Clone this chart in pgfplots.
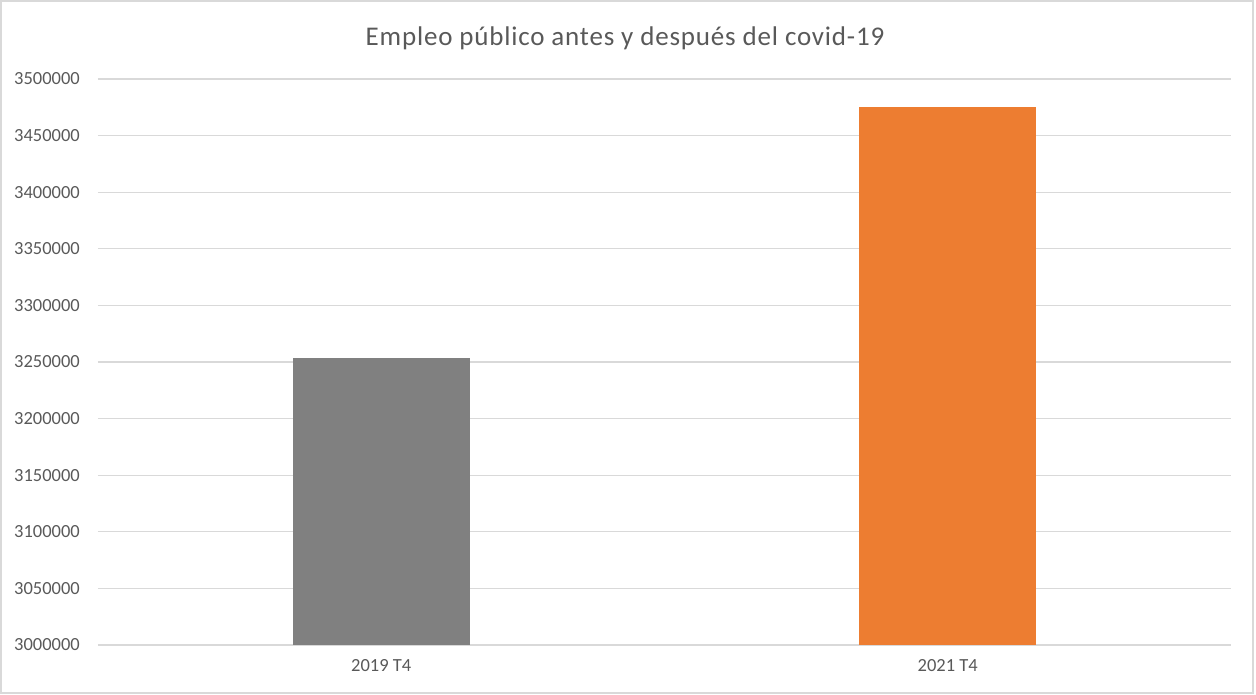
\documentclass[border=0pt]{standalone}
\usepackage{pgfplots}
\pgfplotsset{compat=1.18}
\usepackage{fontspec}
\setmainfont{Carlito}
\newfontfamily\titlefont[LetterSpace=3.0]{Carlito}
\definecolor{txtgray}{RGB}{89,89,89}
\definecolor{gridgray}{RGB}{217,217,217}
\definecolor{bargray}{RGB}{128,128,128}
\definecolor{barorange}{RGB}{237,125,49}
\begin{document}
\begin{tikzpicture}[x=1pt,y=1pt]
\useasboundingbox (0,0) rectangle (1256,695);
\draw[gridgray, line width=1.5pt] (1,2) rectangle (1253,694);
\node[anchor=base, text=txtgray, font=\titlefont\fontsize{27}{31}\selectfont] at (625,649) {Empleo público antes y después del covid-19};
\begin{axis}[
  at={(98pt,50pt)}, anchor=south west,
  scale only axis, width=1133pt, height=566pt,
  xmin=-0.5, xmax=1.5, ymin=3000000, ymax=3500000,
  ytick distance=50000,
  scaled y ticks=false,
  /pgf/number format/.cd, fixed, 1000 sep={}, assume math mode=true,
  /pgfplots/.cd,
  xtick={0,1}, xticklabels={2019 T4, 2021 T4},
  ymajorgrids, grid style={gridgray, line width=1.3pt},
  axis line style={draw=none}, tick style={draw=none},
  yticklabel style={anchor=east, inner sep=0pt, xshift=-18pt, text=txtgray, font=\fontsize{18.5}{22}\selectfont},
  xticklabel style={anchor=north, inner sep=0pt, yshift=-14pt, text=txtgray, font=\fontsize{18.5}{22}\selectfont},
]
\addplot[ybar, bar shift=0pt, bar width=177pt, fill=bargray, draw=none] coordinates {(0,3253500)};
\addplot[ybar, bar shift=0pt, bar width=177pt, fill=barorange, draw=none] coordinates {(1,3475300)};
\end{axis}
\end{tikzpicture}
\end{document}
